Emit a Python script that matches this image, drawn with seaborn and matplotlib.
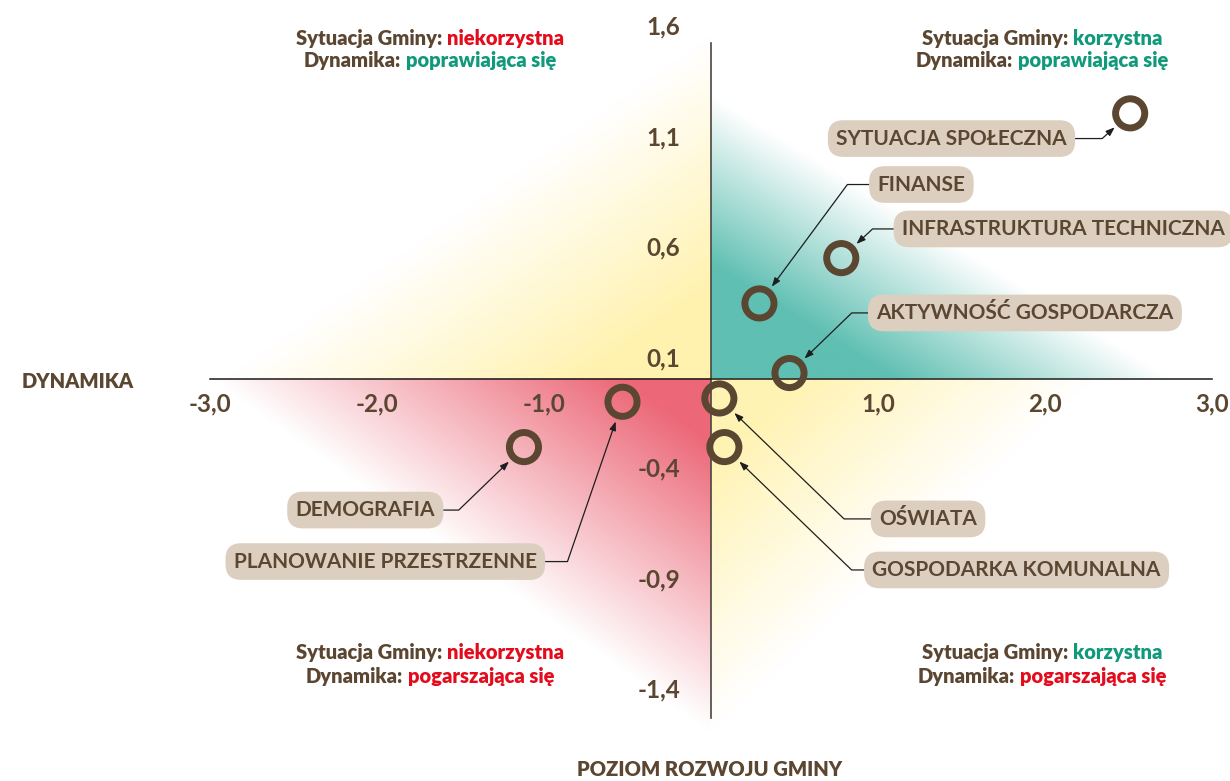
import numpy as np
import pandas as pd
import seaborn as sns
import matplotlib.pyplot as plt
from matplotlib.colors import to_rgb

# areas of the municipality: development level (x) vs dynamics (y)
areas = ["SYTUACJA SPOŁECZNA", "FINANSE", "INFRASTRUKTURA TECHNICZNA",
         "AKTYWNOŚĆ GOSPODARCZA", "OŚWIATA", "GOSPODARKA KOMUNALNA",
         "DEMOGRAFIA", "PLANOWANIE PRZESTRZENNE"]
poziom = [2.51, 0.29, 0.78, 0.47, 0.05, 0.08, -1.12, -0.53]
dynamika = [1.20, 0.34, 0.545, 0.025, -0.09, -0.31, -0.31, -0.105]

xticks = [-3, -2, -1, 1, 2, 3]
xtick_labels = ["-3,0", "-2,0", "-1,0", "1,0", "2,0", "3,0"]
yticks = [1.6, 1.1, 0.6, 0.1, -0.4, -0.9, -1.4]
ytick_labels = ["1,6", "1,1", "0,6", "0,1", "-0,4", "-0,9", "-1,4"]

BROWN = "#5b4631"
RED = "#e30b1c"
GREEN = "#10997a"
BOX = "#dccfc0"

sns.set_style("white")
plt.rcParams["font.family"] = ["Lato", "DejaVu Sans"]

fig = plt.figure(figsize=(12.3, 7.81), dpi=100)
ax = fig.add_axes([210 / 1230, 0.0625, 1002 / 1230, 0.9197])
ax.set_xlim(-3, 3)
ax.set_ylim(-1.6, 1.65)

# quadrant background gradients
gx = np.linspace(-3, 3, 900)
gy = np.linspace(-1.6, 1.65, 600)
X, Y = np.meshgrid(gx, gy)


def ramp(u, u0, u1):
    return np.clip((u1 - u) / (u1 - u0), 0, 1)


img = np.ones(X.shape + (3,))
quads = [
    ((X >= 0) & (Y >= 0), X / 2.75 + Y / 1.28, 0.40, "#5fbfb2"),
    ((X < 0) & (Y >= 0), -X / 2.9 + Y / 1.55, 0.25, "#fff2ae"),
    ((X < 0) & (Y < 0), -X / 3.0 - Y / 1.6, 0.18, "#ec6878"),
    ((X >= 0) & (Y < 0), X / 2.3 - Y / 1.6, 0.25, "#fff3b4"),
]
for mask, u, u0, col in quads:
    a = ramp(u, u0, 1.0)
    c = np.array(to_rgb(col))
    for k in range(3):
        img[..., k] = np.where(mask, 1 - a * (1 - c[k]), img[..., k])
ax.imshow(img, extent=[-3, 3, -1.6, 1.65], origin="lower", aspect="auto", zorder=0)

# axes through the origin
for s in ["top", "right"]:
    ax.spines[s].set_visible(False)
ax.spines["left"].set_position("zero")
ax.spines["bottom"].set_position("zero")
ax.spines["left"].set_bounds(-1.535, 1.52)
ax.spines["bottom"].set_bounds(-3, 3)
ax.spines["left"].set_color("#4a4643")
ax.spines["bottom"].set_color("#1a1a1a")
ax.spines["left"].set_linewidth(1.2)
ax.spines["bottom"].set_linewidth(1.1)
ax.spines["left"].set_zorder(2)
ax.spines["bottom"].set_zorder(2)

ax.set_xticks(xticks, xtick_labels, fontweight="bold", fontsize=17.5)
ax.set_yticks(yticks, ytick_labels, fontweight="bold", fontsize=17.5)
ax.tick_params(axis="x", length=0, pad=10, labelcolor=BROWN)
ax.tick_params(axis="y", length=0, pad=22, labelcolor=BROWN)

df = pd.DataFrame({"area": areas, "poziom": poziom, "dynamika": dynamika})
sns.scatterplot(data=df, x="poziom", y="dynamika", ax=ax, s=440,
                facecolor="none", edgecolor=BROWN, linewidth=5, zorder=5, legend=False)
ax.set_xlabel("")
ax.set_ylabel("")

# labels with elbow leaders
label_pos = [(1.44, 1.086), (1.26, 0.878), (2.11, 0.677), (1.88, 0.297),
             (1.30, -0.635), (1.83, -0.866), (-2.07, -0.595), (-1.95, -0.828)]
leader_angle = [42, 53.5, 43, 44, -44, -44, 44, 71]
for name, px, py, (tx, ty), ang in zip(areas, poziom, dynamika, label_pos, leader_angle):
    rel = (1, 0.5) if tx < px else (0, 0.5)
    ax.annotate(name, xy=(px, py), xytext=(tx, ty), ha="center", va="center",
                fontsize=15, fontweight="bold", color=BROWN, zorder=6,
                bbox=dict(boxstyle="round,pad=0.4,rounding_size=0.75", fc=BOX, ec="none"),
                arrowprops=dict(arrowstyle="-|>,head_length=0.35,head_width=0.13",
                                color="#1e1e1e", lw=0.9, relpos=rel, shrinkA=0, shrinkB=15,
                                connectionstyle=f"angle,angleA=0,angleB={ang},rad=0"))

# quadrant descriptions
renderer = fig.canvas.get_renderer()


def two_tone(cx, cy, first, second, color2):
    y = 1 - cy / 781
    t1 = fig.text(0, y, first, color=BROWN, fontsize=14.5, fontweight="heavy", va="center")
    t2 = fig.text(0, y, second, color=color2, fontsize=14.5, fontweight="heavy", va="center")
    w1 = t1.get_window_extent(renderer).width
    w2 = t2.get_window_extent(renderer).width
    gap = 5
    left = cx - (w1 + gap + w2) / 2
    t1.set_x(left / 1230)
    t2.set_x((left + w1 + gap) / 1230)


two_tone(430, 38, "Sytuacja Gminy:", "niekorzystna", RED)
two_tone(430, 61, "Dynamika:", "poprawiająca się", GREEN)
two_tone(1042, 38, "Sytuacja Gminy:", "korzystna", GREEN)
two_tone(1042, 61, "Dynamika:", "poprawiająca się", GREEN)
two_tone(430, 652, "Sytuacja Gminy:", "niekorzystna", RED)
two_tone(430, 676, "Dynamika:", "pogarszająca się", RED)
two_tone(1042, 652, "Sytuacja Gminy:", "korzystna", GREEN)
two_tone(1042, 676, "Dynamika:", "pogarszająca się", RED)

fig.text(22 / 1230, 1 - 381 / 781, "DYNAMIKA", color=BROWN, fontsize=14.5,
         fontweight="heavy", ha="left", va="center")
fig.text(710 / 1230, 1 - 770 / 781, "POZIOM ROZWOJU GMINY", color=BROWN, fontsize=14.5,
         fontweight="heavy", ha="center", va="center")

fig.savefig("out.png", dpi=100, facecolor="white")
